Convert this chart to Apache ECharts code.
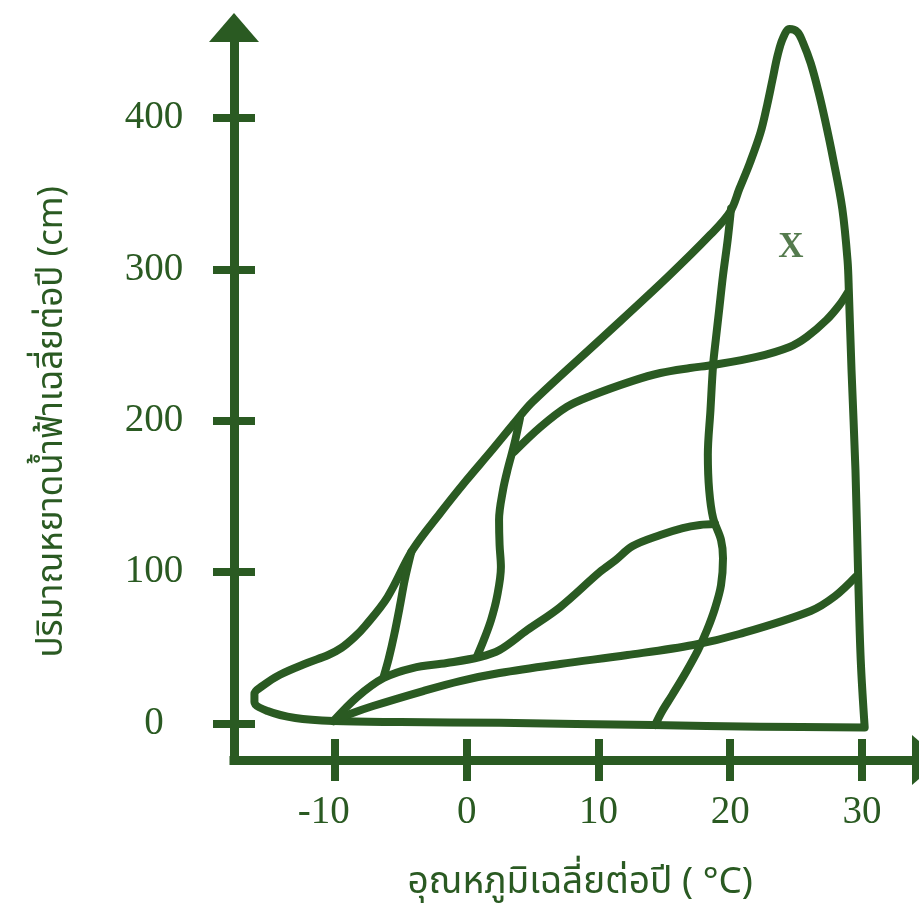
<!DOCTYPE html>
<html><head><meta charset="utf-8">
<script src="https://cdn.jsdelivr.net/npm/echarts@6/dist/echarts.min.js"></script>
<style>html,body{margin:0;padding:0;background:#fff}#c{width:919px;height:912px}</style>
</head><body><div id="c"></div>
<script>
// ---- data ----
const xTickValues = [-10, 0, 10, 20, 30];
const yTickValues = [0, 100, 200, 300, 400];
const xAxisTitle = 'อุณหภูมิเฉลี่ยต่อปี ( °C)';
const yAxisTitle = 'ปริมาณหยาดน้ำฟ้าเฉลี่ยต่อปี (cm)';

// outer boundary: bottom edge -> cold nose -> wet diagonal -> peak -> hot edge
const outerBoundary = [
  [30.2, -2.5], [22.3, -2], [14.1, -1], [2.5, 0.5], [-5, 1], [-10.1, 1.7],
  [-13, 3.7], [-15.1, 8.3], [-16.1, 14.3], [-16.1, 19.6], [-15.5, 24.8],
  [-14.2, 32.1], [-12.1, 40], [-10.5, 45.3], [-9.5, 50], [-8.5, 57.2],
  [-7.7, 64.5], [-6.0, 83.6], [-4.1, 114.7], [-2.0, 139.1], [0.0, 160.9],
  [1.8, 179.4], [3.8, 200.5], [5.0, 212.5], [10.1, 253.4], [15.2, 294.6],
  [18.5, 323], [20.0, 338.2], [20.7, 353.4], [21.5, 370.6], [22.3, 390.5],
  [22.8, 408.6], [23.2, 425.1], [23.6, 441.6], [24.0, 452.8], [24.5, 458.8],
  [25.1, 456.8], [25.5, 450.2], [26.1, 436.3], [26.7, 417.2], [27.2, 398.4],
  [27.8, 373.3], [28.5, 340.2], [28.9, 305.9], [29.0, 285.3], [29.2, 233.6],
  [29.5, 167.5], [29.7, 99.4], [29.9, 42.0], [30.2, -2.5]
];
const curveA = [
  [-10.1, 1.7], [-8.85, 6.3], [-7.1, 11.6], [-3.3, 21.5], [-0.5, 28.1],
  [2.5, 33.4], [7.1, 39.4], [12.2, 45.3], [17.2, 51.9], [20.7, 59.2],
  [26.1, 74.4], [27.95, 84.2], [29.5, 96.8]
];
const curveB = [
  [-10.1, 1.7], [-8.3, 17.6], [-6.3, 30.1], [-4.1, 36.7], [-1.5, 40],
  [1.0, 44], [2.5, 48.6], [4.6, 61.8], [7.1, 77], [10.1, 100.1],
  [11.3, 108], [12.6, 117.3], [14.7, 124.6], [16.4, 129.2], [17.7, 131.2],
  [18.85, 131.8]
];
const curveC = [
  [-4.2, 113.3], [-4.7, 94.8], [-5.05, 78.3], [-5.5, 58.5], [-5.9, 43.3], [-6.3, 30.8]
];
const curveD = [
  [4.05, 201.9], [3.6, 184], [3.14, 168.9], [2.76, 154.3], [2.46, 134.5],
  [2.5, 118], [2.6, 103.4], [2.3, 83.6], [1.85, 68.4], [1.3, 55.2], [0.8, 44.7]
];
const curveE = [
  [3.6, 179.4], [5.6, 195.9], [7.6, 209.2], [9.4, 216.4], [12.6, 226.4],
  [14.7, 231.6], [16.95, 234.9], [18.7, 236.9], [22.0, 242.2], [24.5, 248.8],
  [25.8, 255.4], [27.3, 266.6], [28.3, 276.7], [28.9, 284.6]
];
const curveF = [
  [20.06, 340.2], [19.8, 319.1], [19.45, 296], [19.15, 272.6], [18.9, 253.4],
  [18.7, 236.9], [18.5, 207.2], [18.3, 177.4], [18.4, 154.3], [18.7, 135.8],
  [19.3, 121.3], [19.45, 109.3], [19.3, 91.5], [18.85, 76.4], [18.24, 61.8],
  [17.56, 48.6], [16.65, 34.1], [15.6, 18.9], [14.8, 7.7], [14.3, -0.9]
];
const regionLabels = [[24.6, 314, 'X']];

// ---- styling ----
const green = '#2a5a22';
const serif = '"Liberation Serif", "DejaVu Serif", serif';
const thai = '"Noto Sans Thai", "Noto Sans", sans-serif';
const X_MIN = -17.65, X_MAX = 34.89, Y_MIN = -24.04, Y_MAX = 459.8;

function curve(data) {
  return {
    type: 'line', data: data, showSymbol: false, smooth: 0.35, clip: false, silent: true,
    lineStyle: { color: green, width: 8, cap: 'round', join: 'round' }, z: 3
  };
}
const tickStyle = { color: green, width: 8 };

const chart = echarts.init(document.getElementById('c'), null, { renderer: 'canvas' });
chart.setOption({
  animation: false,
  backgroundColor: '#ffffff',
  grid: { left: 234, top: 27.5, width: 692.5, height: 732.5, containLabel: false, outerBoundsMode: 'none' },
  xAxis: [
    {
      type: 'value', min: X_MIN, max: X_MAX, position: 'bottom',
      axisLine: { onZero: false, symbol: ['none', 'triangle'], symbolSize: [50, 29],
        lineStyle: { color: green, width: 9, cap: 'square' } },
      axisTick: { show: true, customValues: xTickValues, length: 21, inside: false, lineStyle: tickStyle },
      axisLabel: {
        customValues: xTickValues, margin: 33, fontFamily: serif, fontSize: 39, color: green,
        formatter: v => (v < 0 ? v + '{pad| }' : String(v)),
        rich: { pad: { width: 22, fontFamily: serif, fontSize: 39 } }
      },
      splitLine: { show: false },
      name: xAxisTitle, nameLocation: 'middle', nameGap: 107,
      nameTextStyle: { fontFamily: thai, fontSize: 37, color: green }
    },
    {
      type: 'value', min: X_MIN, max: X_MAX, position: 'bottom',
      axisLine: { show: false, onZero: false },
      axisTick: { show: true, customValues: xTickValues, length: 21, inside: true, lineStyle: tickStyle },
      axisLabel: { show: false }, splitLine: { show: false }
    }
  ],
  yAxis: [
    {
      type: 'value', min: Y_MIN, max: Y_MAX, position: 'left',
      axisLine: { onZero: false, symbol: ['none', 'triangle'], symbolSize: [50, 29],
        lineStyle: { color: green, width: 9, cap: 'square' } },
      axisTick: { show: true, customValues: yTickValues, length: 21, inside: false, lineStyle: tickStyle },
      axisLabel: { customValues: yTickValues, margin: 80, align: 'center', fontFamily: serif, fontSize: 39, color: green },
      splitLine: { show: false },
      name: yAxisTitle, nameLocation: 'middle', nameGap: 162,
      nameTextStyle: { fontFamily: thai, fontSize: 35, color: green, padding: [0, 56, 0, 0] }
    },
    {
      type: 'value', min: Y_MIN, max: Y_MAX, position: 'left',
      axisLine: { show: false, onZero: false },
      axisTick: { show: true, customValues: yTickValues, length: 21, inside: true, lineStyle: tickStyle },
      axisLabel: { show: false }, splitLine: { show: false }
    }
  ],
  series: [
    curve(outerBoundary), curve(curveA), curve(curveB), curve(curveC),
    curve(curveD), curve(curveE), curve(curveF),
    {
      type: 'scatter', data: regionLabels, symbolSize: 0, silent: true, z: 4,
      label: { show: true, position: 'inside', formatter: p => p.data[2],
        fontFamily: serif, fontSize: 35, fontWeight: 'bold', color: green }
    }
  ]
});
</script></body></html>
